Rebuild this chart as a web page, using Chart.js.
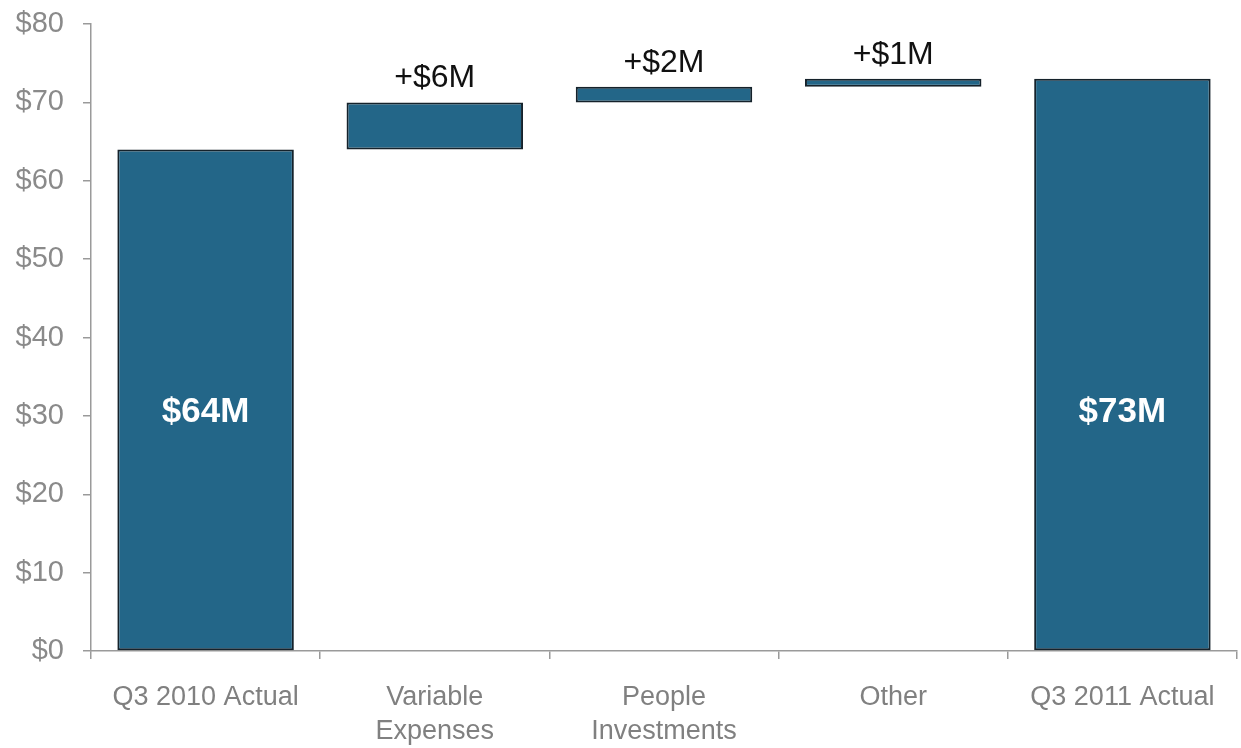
<!DOCTYPE html>
<html>
<head>
<meta charset="utf-8">
<script src="https://cdn.jsdelivr.net/npm/chart.js@4/dist/chart.umd.min.js"></script>
<style>
    body { margin: 0; background: #ffffff; }
    #wrap { width: 1241px; height: 748px; position: relative; }
</style>
</head>
<body>
<div id="wrap"><canvas id="bridgeChart"></canvas></div>
<script>
// Q3 2010 -> Q3 2011 expense bridge

const categories = ['Q3 2010 Actual', ['Variable', 'Expenses'], ['People', 'Investments'], 'Other', 'Q3 2011 Actual'];
const barStarts = [0, 64, 70, 72, 0];
const barEnds = [64, 70, 72, 73, 73];
const barLabels = ['$64M', '+$6M', '+$2M', '+$1M', '$73M'];
const isTotal = [true, false, false, false, true];
const yMin = 0;
const yMax = 80;
const yStep = 10;
const totalLabelValue = 30.5;

const FONT = '"Liberation Sans", Arial, Helvetica, sans-serif';

const bridgeLabels = {
    id: 'bridgeLabels',
    afterDatasetsDraw(chart) {
        const ctx = chart.ctx;
        const yScale = chart.scales.y;
        const bars = chart.getDatasetMeta(0).data;
        ctx.save();
        ctx.textAlign = 'center';
        bars.forEach((bar, i) => {
            if (isTotal[i]) {
                ctx.fillStyle = '#ffffff';
                ctx.font = 'bold 35px ' + FONT;
                ctx.textBaseline = 'middle';
                ctx.fillText(barLabels[i], bar.x, yScale.getPixelForValue(totalLabelValue));
            } else {
                ctx.fillStyle = '#111111';
                ctx.font = '32px ' + FONT;
                ctx.textBaseline = 'bottom';
                ctx.fillText(barLabels[i], bar.x, yScale.getPixelForValue(barEnds[i]) - 8);
            }
        });
        ctx.restore();
    }
};

const ctx = document.getElementById('bridgeChart').getContext('2d');
new Chart(ctx, {
    type: 'bar',
    data: {
        labels: categories,
        datasets: [{
            data: barStarts.map((s, i) => [s, barEnds[i]]),
            backgroundColor: '#236688',
            borderColor: '#15222b',
            borderWidth: 2,
            borderSkipped: false,
            barPercentage: 0.77,
            categoryPercentage: 1
        }]
    },
    options: {
        responsive: true,
        maintainAspectRatio: false,
        animation: false,
        layout: { padding: { top: 24, right: 4, left: 0, bottom: 0 } },
        plugins: {
            legend: { display: false },
            tooltip: { enabled: false }
        },
        scales: {
            y: {
                min: yMin,
                max: yMax,
                afterFit: (scale) => {
                    scale.width = 91;
                    scale.paddingTop = 0;
                    scale.paddingBottom = 0;
                },
                grid: { drawOnChartArea: false, tickLength: 8, color: '#9a9a9a', lineWidth: 1.5 },
                border: { color: '#9a9a9a', width: 1.5 },
                ticks: {
                    stepSize: yStep,
                    padding: 19,
                    color: '#8a8a8a',
                    font: { size: 29, family: FONT },
                    callback: (v) => '$' + v
                }
            },
            x: {
                afterFit: (scale) => { scale.height = 97; },
                grid: { drawOnChartArea: false, tickLength: 8, color: '#9a9a9a', lineWidth: 1.5, offset: true },
                border: { color: '#9a9a9a', width: 1.5 },
                ticks: {
                    padding: 22,
                    color: '#808080',
                    maxRotation: 0,
                    autoSkip: false,
                    font: { size: 27, family: FONT, lineHeight: 1.25 }
                }
            }
        }
    },
    plugins: [bridgeLabels]
});
</script>
</body>
</html>
